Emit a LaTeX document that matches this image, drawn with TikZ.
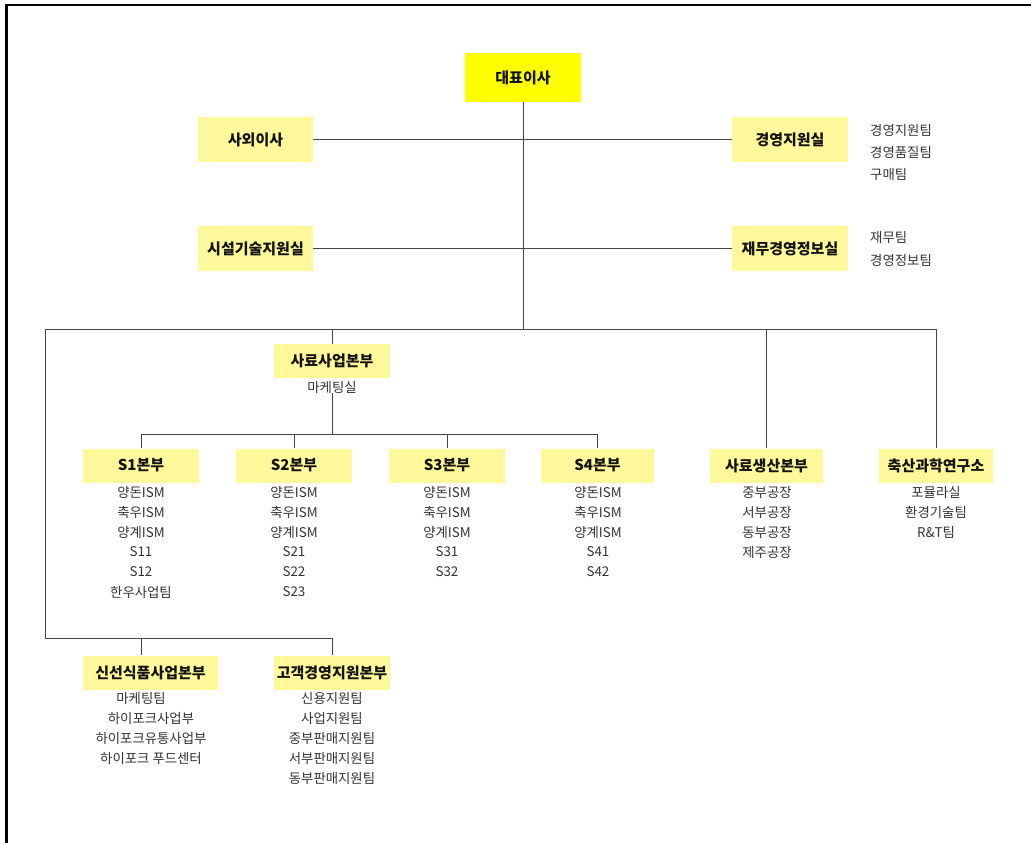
\documentclass[tikz,border=0pt]{standalone}
\usepackage{fontspec}
\setmainfont{Noto Sans CJK KR}
\definecolor{lyellow}{HTML}{FFF99B}
\definecolor{tyellow}{HTML}{FFFF00}
\definecolor{linec}{HTML}{454545}
\definecolor{subc}{HTML}{333333}
\begin{document}
\begin{tikzpicture}[x=1pt,y=-1pt,
  ybox/.style={fill=lyellow, minimum width=116pt, minimum height=34pt, inner sep=0pt,
    font=\fontsize{15}{17}\selectfont\bfseries, text=black!92},
  tallbox/.style={ybox, minimum height=45pt},
  sub/.style={font=\fontsize{13.4}{15}\selectfont, text=subc, inner sep=0pt},
  side/.style={sub, anchor=west},
  conn/.style={draw=linec, line width=1pt},
  frameline/.style={draw=black, line width=2.6pt}]
\useasboundingbox (0,0) rectangle (1031,843);
\draw[frameline] (6.5,843) -- (6.5,5) -- (1031,5);

% top level
\node[tallbox, fill=tyellow, minimum height=49pt] (ceo) at (523,77.5) {대표이사};
\node[tallbox, minimum width=115pt] (outside) at (255.5,139.5) {사외이사};
\node[tallbox] (mgmt) at (790,139.5) {경영지원실};
\node[tallbox, minimum width=115pt] (facility) at (255.5,248.5) {시설기술지원실};
\node[tallbox] (finance) at (790,248.5) {재무경영정보실};

\node[side] (m1) at (870,130) {경영지원팀};
\node[side] (m2) at (870,152) {경영품질팀};
\node[side] (m3) at (870,174) {구매팀};
\node[side] (f1) at (870,237) {재무팀};
\node[side] (f2) at (870,260) {경영정보팀};

% main bus
\coordinate (b1) at (523,329);
\coordinate (busL) at (45,329);
\coordinate (busR) at (936,329);
\coordinate (lowL) at (45,638);

\draw[conn] (ceo.south) -- (b1);
\draw[conn] (outside.east) -- (mgmt.west);
\draw[conn] (facility.east) -- (finance.west);
\draw[conn] (busL) -- (busR);

% feed business division
\node[ybox] (feed) at (332,361) {사료사업본부};
\node[sub] (feedsub) at (332,387) {마케팅실};
\draw[conn] (feed.north |- busL) -- (feed.north);

\node[ybox] (s1) at (141,465.5) {S1본부};
\node[ybox] (s2) at (294,465.5) {S2본부};
\node[ybox] (s3) at (447,465.5) {S3본부};
\node[ybox, minimum width=113pt] (s4) at (597.5,465.5) {S4본부};

\coordinate (sb) at (332,434);
\draw[conn] (feedsub.south) -- (sb);
\draw[conn] (s1.north |- sb) -- (s4.north |- sb);
\foreach \s in {s1,s2,s3,s4} \draw[conn] (\s.north |- sb) -- (\s.north);

\foreach \t [count=\i] in {양돈ISM,축우ISM,양계ISM,S11,S12,한우사업팀}
  \node[sub] (s1-\i) at (141,472+20*\i) {\t};
\foreach \t [count=\i] in {양돈ISM,축우ISM,양계ISM,S21,S22,S23}
  \node[sub] (s2-\i) at (294,472+20*\i) {\t};
\foreach \t [count=\i] in {양돈ISM,축우ISM,양계ISM,S31,S32}
  \node[sub] (s3-\i) at (447,472+20*\i) {\t};
\foreach \t [count=\i] in {양돈ISM,축우ISM,양계ISM,S41,S42}
  \node[sub] (s4-\i) at (598,472+20*\i) {\t};

% production & lab
\node[ybox, minimum width=113pt] (prod) at (766.5,465.5) {사료생산본부};
\node[ybox, minimum width=114pt] (lab) at (936,465.5) {축산과학연구소};
\draw[conn] (prod.north |- busL) -- (prod.north);
\draw[conn] (busR) -- (lab.north);

\foreach \t [count=\i] in {중부공장,서부공장,동부공장,제주공장}
  \node[sub] (p-\i) at (767,472+20*\i) {\t};
\foreach \t [count=\i] in {포뮬라실,환경기술팀,R\&T팀}
  \node[sub] (l-\i) at (936,472+20*\i) {\t};

% lower divisions
\node[ybox, minimum width=135pt] (fresh) at (150.5,672.5) {신선식품사업본부};
\node[ybox] (cust) at (332,672.5) {고객경영지원본부};
\coordinate (lb1) at (141,638);
\draw[conn] (busL) -- (lowL) -| (cust.north);
\draw[conn] (lb1) -- (lb1 |- fresh.north);

\node[sub] (fr-1) at (141,698) {마케팅팀};
\foreach \t [count=\i from 2] in {하이포크사업부,하이포크유통사업부,하이포크 푸드센터}
  \node[sub] (fr-\i) at (151,678+20*\i) {\t};
\foreach \t [count=\i] in {신용지원팀,사업지원팀,중부판매지원팀,서부판매지원팀,동부판매지원팀}
  \node[sub] (c-\i) at (332,678+20*\i) {\t};
\end{tikzpicture}
\end{document}
